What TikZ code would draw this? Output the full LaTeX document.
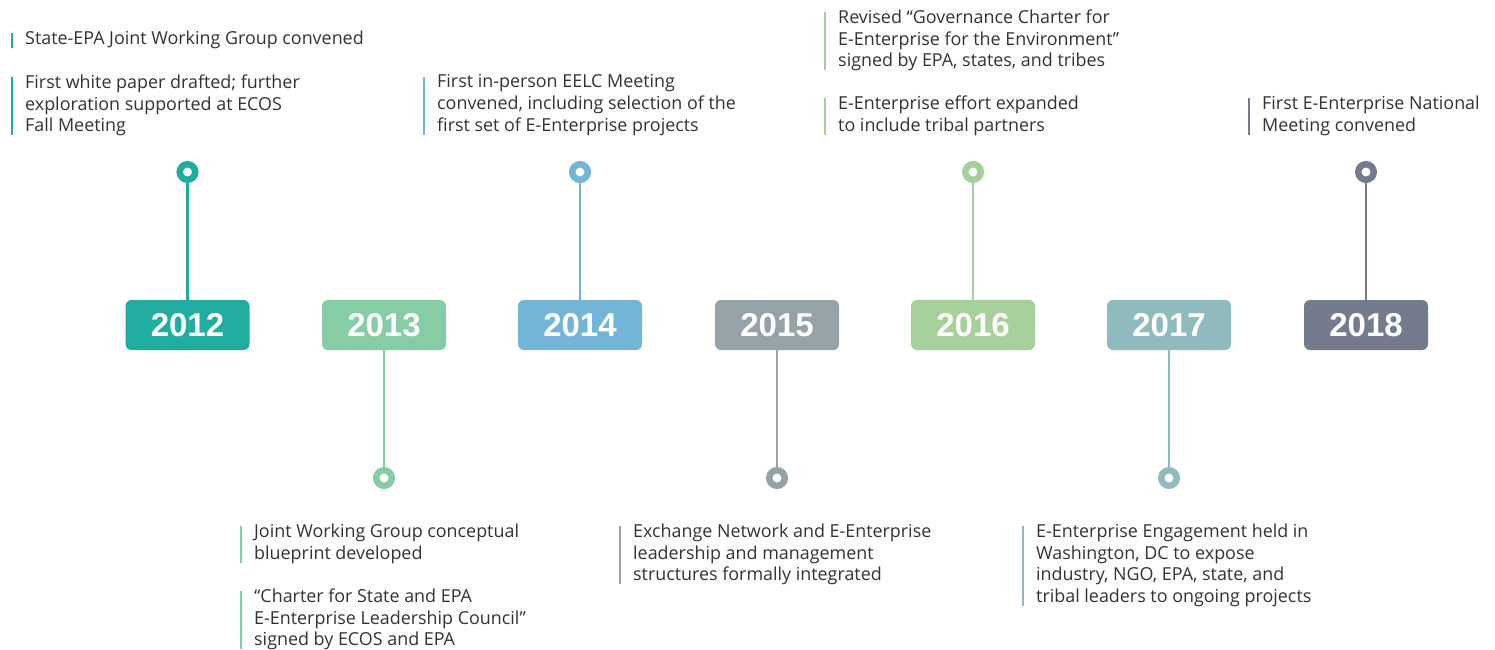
\documentclass[tikz,border=0pt]{standalone}
\usepackage{fontspec}
\setmainfont{Open Sans}
\newfontfamily\yearfont{Liberation Sans}
\usetikzlibrary{positioning}
\definecolor{c12}{HTML}{20ADA0}
\definecolor{c13}{HTML}{86CCA4}
\definecolor{c14}{HTML}{72B5D7}
\definecolor{c15}{HTML}{95A2A8}
\definecolor{c16}{HTML}{A6D09A}
\definecolor{c17}{HTML}{8FBABE}
\definecolor{c18}{HTML}{737B8C}
\definecolor{txt}{HTML}{333333}
\tikzset{
  yearbox/.style={fill=#1, rounded corners=6pt, minimum width=124pt, minimum height=50pt, inner sep=0pt,
     text=white, font=\yearfont\bfseries\fontsize{33}{36}\selectfont},
  dot/.style={circle, draw=#1, line width=6.5pt, fill=white, minimum size=15.5pt, inner sep=0pt},
  stem/.style={draw=#1, line width=2.5pt},
  note/.style={anchor=north west, align=left, inner sep=0pt, text=txt,
     font=\fontsize{17.9}{21.7}\selectfont},
  bar/.style={draw=#1, line width=2.5pt}
}
\newcommand{\notebar}[2]{\draw[bar=#2] ([xshift=-13pt,yshift=-2pt]#1.north west) -- ([xshift=-13pt,yshift=1pt]#1.south west);}
\begin{document}
\begin{tikzpicture}[x=1pt,y=-1pt]
\useasboundingbox[fill=white] (0,0) rectangle (1495,649);
% year boxes
\node[yearbox=c12] (y12) at (187.5,325) {2012};
\node[yearbox=c13] (y13) at (384,325) {2013};
\node[yearbox=c14] (y14) at (580,325) {2014};
\node[yearbox=c15] (y15) at (777,325) {2015};
\node[yearbox=c16] (y16) at (973,325) {2016};
\node[yearbox=c17] (y17) at (1169,325) {2017};
\node[yearbox=c18] (y18) at (1366,325) {2018};
% dots
\node[dot=c12] (d12) at (187.5,172) {};
\node[dot=c13] (d13) at (384,478) {};
\node[dot=c14] (d14) at (580,172) {};
\node[dot=c15] (d15) at (777,478) {};
\node[dot=c16] (d16) at (973,172) {};
\node[dot=c17] (d17) at (1169,478) {};
\node[dot=c18] (d18) at (1366,172) {};
% stems
\draw[stem=c12] (d12) -- (y12);
\draw[stem=c13] (d13) -- (y13);
\draw[stem=c14] (d14) -- (y14);
\draw[stem=c15] (d15) -- (y15);
\draw[stem=c16] (d16) -- (y16);
\draw[stem=c17] (d17) -- (y17);
\draw[stem=c18] (d18) -- (y18);
% notes
\node[note] (n12a) at (25,31) {State-EPA Joint Working Group convened};
\node[note] (n12b) at (25,74.5) {First white paper drafted; further\\exploration supported at ECOS\\Fall Meeting};
\node[note] (n14) at (437,74.5) {First in-person EELC Meeting\\convened, including selection of the\\first set of E-Enterprise projects};
\node[note] (n16a) at (838,9.5) {Revised “Governance Charter for\\E-Enterprise for the Environment”\\signed by EPA, states, and tribes};
\node[note] (n16b) at (838,95.5) {E-Enterprise effort expanded\\to include tribal partners};
\node[note] (n18) at (1262,95.5) {First E-Enterprise National\\Meeting convened};
\node[note] (n13a) at (254,523.5) {Joint Working Group conceptual\\blueprint developed};
\node[note] (n13b) at (254,588.5) {“Charter for State and EPA\\E-Enterprise Leadership Council”\\signed by ECOS and EPA};
\node[note] (n15) at (633,523.5) {Exchange Network and E-Enterprise\\leadership and management\\structures formally integrated};
\node[note] (n17) at (1036,523.5) {E-Enterprise Engagement held in\\Washington, DC to expose\\industry, NGO, EPA, state, and\\tribal leaders to ongoing projects};
\notebar{n12a}{c12}
\notebar{n12b}{c12}
\notebar{n14}{c14}
\notebar{n16a}{c16}
\notebar{n16b}{c16}
\notebar{n18}{c18}
\notebar{n13a}{c13}
\notebar{n13b}{c13}
\notebar{n15}{c15}
\notebar{n17}{c17}
\end{tikzpicture}
\end{document}
